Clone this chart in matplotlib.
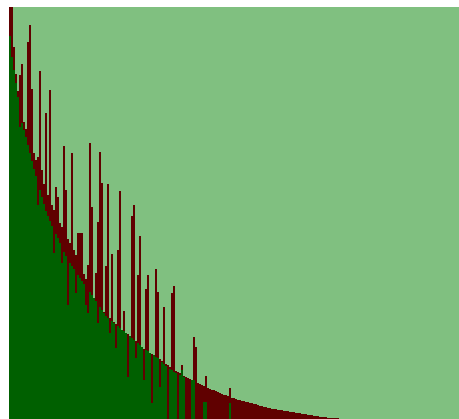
import numpy as np
import matplotlib
matplotlib.use("Agg")
import matplotlib.pyplot as plt

# alturas de cada barra (verde = serie base, roja = serie total detrás)
verde = [383, 362, 349, 336, 322, 292, 296, 289, 282, 274,
         266, 258, 250, 243, 214, 229, 222, 215, 208, 203,
         198, 193, 166, 185, 181, 176, 156, 167, 163, 114,
         156, 153, 150, 126, 144, 141, 138, 135, 114, 106,
         127, 124, 121, 118, 96, 112, 109, 106, 103, 101,
         86, 98, 96, 71, 93, 91, 89, 88, 86, 42,
         83, 81, 79, 61, 76, 74, 72, 39, 69, 68,
         66, 16, 64, 62, 61, 32, 57, 55, 53, 0,
         50, 49, 47, 46, 0, 44, 49, 42, 0, 0,
         0, 39, 39, 0, 0, 0, 0, 17, 17, 0,
         0, 0, 0, 0, 0, 0, 0, 0, 0, 0,
         16]

roja = [412, 412, 372, 345, 328, 344, 355, 297, 290, 377,
        394, 330, 266, 259, 262, 348, 249, 235, 306, 224,
        329, 214, 209, 232, 222, 196, 192, 273, 229, 180,
        176, 266, 169, 164, 186, 186, 186, 145, 140, 154,
        276, 212, 121, 146, 197, 267, 236, 107, 153, 235,
        101, 165, 97, 95, 169, 228, 89, 108, 86, 85,
        83, 203, 214, 78, 144, 183, 72, 70, 130, 144,
        66, 65, 64, 150, 127, 60, 58, 112, 55, 54,
        52, 126, 133, 48, 47, 46, 54, 43, 42, 41,
        40, 39, 82, 72, 36, 35, 34, 33, 43, 31,
        30, 29, 29, 28, 27, 26, 25, 24, 24, 23,
        31, 21, 21, 20, 19, 19, 18, 18, 17, 17,
        16, 16, 15, 15, 14, 13, 13, 12, 12, 11,
        11, 10, 10, 10, 9, 9, 9, 8, 8, 8,
        7, 7, 7, 6, 6, 6, 5, 5, 5, 4,
        4, 4, 3, 3, 3, 2, 2, 2, 2, 1,
        1, 1, 1, 1, 1]

n_barras = 225
tope = 412

fig = plt.figure(figsize=(4.59, 4.19), dpi=100)
ax = fig.add_axes([9 / 459, 0, 450 / 459, 412 / 419])
ax.set_facecolor("#80c080")

xr = np.arange(len(roja))
xv = np.arange(len(verde))
ax.bar(xr, roja, width=1.0, color="#600000", linewidth=0)
ax.bar(xv, verde, width=1.0, color="#006000", linewidth=0)

ax.set_xlim(-0.5, n_barras - 0.5)
ax.set_ylim(0, tope)
ax.set_xticks([])
ax.set_yticks([])
for s in ax.spines.values():
    s.set_visible(False)

fig.savefig("out.png", dpi=100)
